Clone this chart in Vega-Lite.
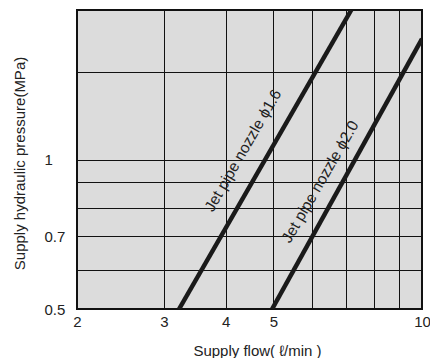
{
  "$schema": "https://vega.github.io/schema/vega-lite/v6.json",
  "width": 345,
  "height": 299,
  "autosize": "none",
  "padding": {"left": 77, "top": 10, "right": 8, "bottom": 49},
  "background": "#ffffff",
  "config": {
    "font": "Liberation Sans",
    "view": {"fill": "#dcdcdc", "stroke": "#111111", "strokeWidth": 2},
    "axis": {"domain": false, "ticks": false, "grid": true, "gridColor": "#111111", "gridOpacity": 1, "gridWidth": 1, "labelColor": "#222222", "titleColor": "#222222", "labelFontSize": 15, "titleFontSize": 15, "titleFontWeight": "normal"}
  },
  "datasets": {
    "lines": [
      {"series": "d1.6", "flow": 3.22, "pressure": 0.5},
      {"series": "d1.6", "flow": 7.19, "pressure": 2.0},
      {"series": "d2.0", "flow": 4.97, "pressure": 0.5},
      {"series": "d2.0", "flow": 10.0, "pressure": 1.75}
    ],
    "labels": [
      {"text": "Jet pipe nozzle ϕ1.6", "flow": 4.34, "pressure": 1.043},
      {"text": "Jet pipe nozzle ϕ2.0", "flow": 6.22, "pressure": 0.902}
    ]
  },
  "layer": [
    {
      "data": {"name": "lines"},
      "mark": {"type": "line", "color": "#1a1a1a", "strokeWidth": 4.5, "clip": true},
      "encoding": {
        "x": {"field": "flow", "type": "quantitative", "scale": {"type": "log", "domain": [2, 10], "nice": false},
          "axis": {"title": "Supply flow( ℓ/min )", "values": [2, 3, 4, 5, 6, 7, 8, 9, 10], "labelExpr": "indexof([2,3,4,5,10], datum.value) >= 0 ? datum.value + '' : ''", "labelPadding": 5, "labelFlush": false, "titleX": 180, "titleY": 41, "titleBaseline": "middle"}},
        "y": {"field": "pressure", "type": "quantitative", "scale": {"type": "log", "domain": [0.5, 2], "nice": false},
          "axis": {"title": "Supply hydraulic pressure(MPa)", "values": [0.5, 0.6, 0.7, 0.8, 0.9, 1, 1.5, 2], "labelExpr": "indexof([0.5,0.7,1], datum.value) >= 0 ? datum.value + '' : ''", "labelAlign": "left", "labelPadding": 33, "labelFlush": false, "titleX": -58, "titleY": 153, "titleAngle": -90, "titleBaseline": "middle", "titleAlign": "center"}},
        "detail": {"field": "series"}
      }
    },
    {
      "data": {"name": "labels"},
      "mark": {"type": "text", "angle": -60, "fontSize": 15.5, "color": "#222222", "align": "center", "baseline": "middle"},
      "encoding": {
        "x": {"field": "flow", "type": "quantitative"},
        "y": {"field": "pressure", "type": "quantitative"},
        "text": {"field": "text"}
      }
    }
  ]
}
